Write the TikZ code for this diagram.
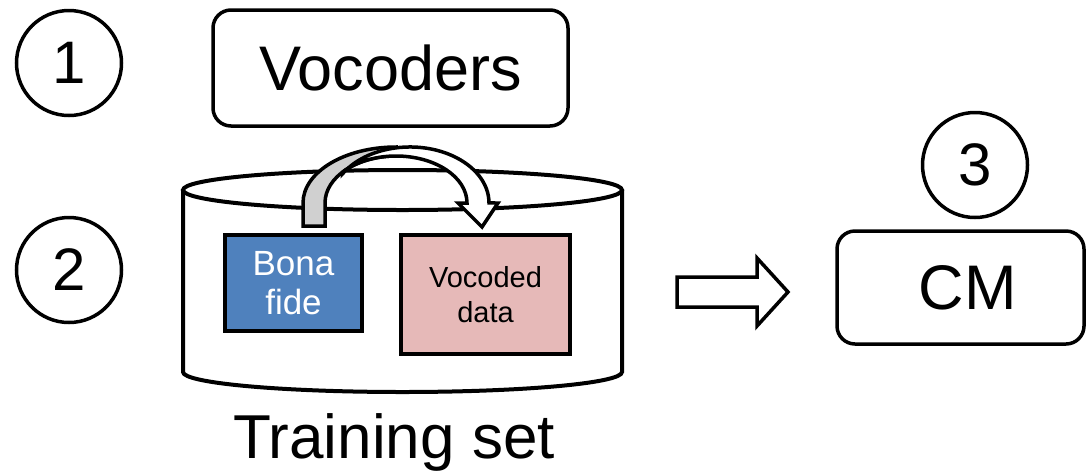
\documentclass[tikz,border=0pt]{standalone}
\usepackage{fontspec}
\setmainfont{Liberation Sans}
\definecolor{bonablue}{HTML}{4F81BD}
\definecolor{vocpink}{HTML}{E6B9B8}
\definecolor{arrgray}{HTML}{D0D0D0}
\begin{document}
\begin{tikzpicture}[x=1pt,y=-1pt,
  numcirc/.style={circle,draw,line width=3.5pt,minimum size=105pt,inner sep=0pt,font=\fontsize{60}{62}\selectfont},
  rbox/.style={rectangle,rounded corners=18pt,draw,line width=3.5pt,inner sep=0pt,font=\fontsize{63}{65}\selectfont},
  databox/.style={rectangle,draw,line width=4.5pt,inner sep=0pt,align=center},
  cylline/.style={line width=4pt},
  arrline/.style={line width=3.5pt,line join=miter}]
\useasboundingbox (0,0) rectangle (1086,475);
% numbered circles
\node[numcirc] (n1) at (69,63) {1};
\node[numcirc] (n2) at (69,270) {2};
\node[numcirc] (n3) at (975,165) {3};
% vocoders box
\node[rbox,minimum width=355pt,minimum height=116pt] (voc) at (390.5,68) {Vocoders};
% cylinder (training set)
\filldraw[cylline,fill=white] (183,190) -- (183,372) arc[start angle=180,end angle=0,x radius=219.5,y radius=20] -- (622,190);
\draw[cylline] (402.5,190) ellipse[x radius=219.5,y radius=20];
\node[databox,fill=bonablue,text=white,minimum width=137pt,minimum height=96pt,font=\fontsize{35}{39}\selectfont] (bona) at (293.5,283) {Bona\\fide};
\node[databox,fill=vocpink,minimum width=169pt,minimum height=119pt,font=\fontsize{29}{35}\selectfont] (vocd) at (485.5,294.5) {Vocoded\\data};
\node[font=\fontsize{62}{64}\selectfont] (train) at (394,442) {Training set};
% curved arrow from bona fide to vocoded data
\filldraw[arrline,fill=arrgray] (303,226) -- (303,203) arc[start angle=180,end angle=270,x radius=93,y radius=56] -- (396,156) arc[start angle=270,end angle=180,x radius=71,y radius=47] -- (325,226) -- cycle;
\filldraw[arrline,fill=white] (343.0,173.3) arc[start angle=212,end angle=360,x radius=79,y radius=56] -- (498,203) -- (482,227) -- (458,203) -- (467,203) arc[start angle=360,end angle=222,x radius=71,y radius=47] -- cycle;
% CM box
\node[rbox,minimum width=247pt,minimum height=113pt] (cm) at (960.5,287.5) {\hspace*{14pt}CM};
% block arrow
\coordinate (ba) at (677,292);
\draw[arrline,fill=white] (ba) ++(0,-15) -- ++(80,0) -- ++(0,-19) -- (788,292) -- (757,326) -- ++(0,-19) -- (677,307) -- cycle;
\end{tikzpicture}
\end{document}
